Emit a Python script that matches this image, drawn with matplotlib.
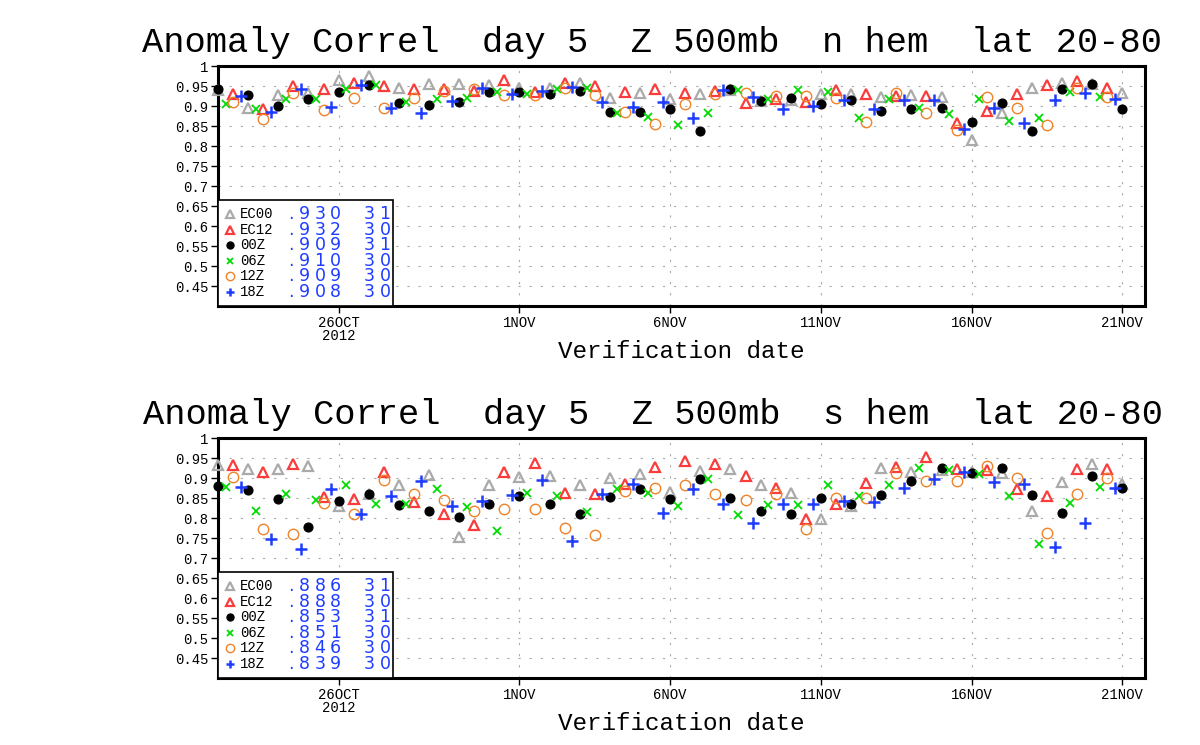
import numpy as np
import matplotlib
matplotlib.use('Agg')
import matplotlib.pyplot as plt
from matplotlib.patches import Rectangle

# ---- data: anomaly correlation, day 5, Z500 ----
start = np.datetime64('2012-10-22T00:00')

nh_ec00 = [0.940, 0.894, 0.927, 0.932, 0.966, 0.976, 0.944, 0.956, 0.956, 0.953, 0.946,
           0.946, 0.958, 0.921, 0.933, 0.918, 0.931, 0.940, 0.912, 0.915, 0.929, 0.931,
           0.922, 0.927, 0.923, 0.814, 0.883, 0.946, 0.957, 0.955, 0.933]
nh_ec12 = [0.931, 0.892, 0.950, 0.942, 0.958, 0.950, 0.943, 0.943, 0.938, 0.965,
           0.935, 0.958, 0.950, 0.935, 0.942, 0.933, 0.937, 0.908, 0.917, 0.910,
           0.939, 0.931, 0.925, 0.925, 0.857, 0.887, 0.929, 0.952, 0.962, 0.946]
nh_00z = [0.942, 0.927, 0.900, 0.918, 0.936, 0.952, 0.908, 0.902, 0.910, 0.935, 0.936,
          0.931, 0.937, 0.885, 0.886, 0.892, 0.837, 0.942, 0.912, 0.921, 0.904, 0.915,
          0.887, 0.893, 0.896, 0.861, 0.908, 0.837, 0.942, 0.954, 0.892]
nh_06z = [0.906, 0.893, 0.918, 0.918, 0.942, 0.952, 0.911, 0.918, 0.921, 0.935,
          0.931, 0.943, 0.946, 0.882, 0.872, 0.852, 0.882, 0.939, 0.917, 0.940,
          0.936, 0.869, 0.917, 0.896, 0.879, 0.917, 0.862, 0.869, 0.935, 0.923]
nh_12z = [0.911, 0.867, 0.933, 0.890, 0.921, 0.894, 0.921, 0.937, 0.942, 0.927,
          0.927, 0.944, 0.927, 0.886, 0.856, 0.906, 0.931, 0.932, 0.925, 0.925,
          0.921, 0.860, 0.932, 0.883, 0.840, 0.923, 0.896, 0.852, 0.946, 0.923]
nh_18z = [0.925, 0.885, 0.943, 0.898, 0.952, 0.894, 0.883, 0.912, 0.946, 0.931,
          0.937, 0.948, 0.910, 0.898, 0.910, 0.871, 0.939, 0.923, 0.892, 0.900,
          0.915, 0.892, 0.915, 0.915, 0.842, 0.896, 0.857, 0.914, 0.932, 0.917]

sh_ec00 = [0.933, 0.923, 0.922, 0.930, 0.830, 0.860, 0.882, 0.907, 0.752, 0.883, 0.902,
           0.904, 0.883, 0.901, 0.909, 0.865, 0.917, 0.923, 0.882, 0.862, 0.797, 0.830,
           0.925, 0.915, 0.920, 0.915, 0.913, 0.817, 0.890, 0.936, 0.885]
sh_ec12 = [0.932, 0.915, 0.934, 0.852, 0.848, 0.915, 0.840, 0.811, 0.782, 0.915,
           0.937, 0.863, 0.859, 0.886, 0.927, 0.942, 0.936, 0.905, 0.876, 0.798,
           0.836, 0.888, 0.927, 0.952, 0.922, 0.919, 0.872, 0.855, 0.922, 0.922]
sh_00z = [0.880, 0.869, 0.847, 0.777, 0.842, 0.861, 0.833, 0.817, 0.803, 0.836, 0.855,
          0.836, 0.811, 0.852, 0.873, 0.847, 0.897, 0.851, 0.817, 0.811, 0.851, 0.836,
          0.857, 0.892, 0.926, 0.913, 0.925, 0.857, 0.813, 0.904, 0.875]
sh_06z = [0.877, 0.817, 0.861, 0.844, 0.882, 0.836, 0.836, 0.873, 0.827, 0.768,
          0.863, 0.854, 0.815, 0.873, 0.863, 0.830, 0.897, 0.807, 0.832, 0.832,
          0.883, 0.854, 0.882, 0.926, 0.919, 0.911, 0.855, 0.736, 0.838, 0.877]
sh_12z = [0.902, 0.772, 0.759, 0.838, 0.809, 0.894, 0.861, 0.846, 0.817, 0.822,
          0.822, 0.775, 0.757, 0.867, 0.876, 0.883, 0.861, 0.844, 0.861, 0.773,
          0.850, 0.850, 0.913, 0.892, 0.892, 0.930, 0.900, 0.763, 0.861, 0.900]
sh_18z = [0.877, 0.748, 0.723, 0.872, 0.811, 0.855, 0.892, 0.829, 0.842, 0.857,
          0.894, 0.742, 0.861, 0.886, 0.812, 0.872, 0.834, 0.787, 0.834, 0.834,
          0.842, 0.840, 0.875, 0.898, 0.915, 0.890, 0.884, 0.727, 0.788, 0.875]

names = ['EC00', 'EC12', '00Z', '06Z', '12Z', '18Z']
cycle_hours = [0, 12, 0, 6, 12, 18]
nh_means = ['.930', '.932', '.909', '.910', '.909', '.908']
sh_means = ['.886', '.888', '.853', '.851', '.846', '.839']
nh_counts = ['31', '30', '31', '30', '30', '30']
sh_counts = ['31', '30', '31', '30', '30', '30']

tick_dates = ['2012-10-26', '2012-11-01', '2012-11-06', '2012-11-11', '2012-11-16', '2012-11-21']
tick_labels = ['26OCT\n2012', '1NOV', '6NOV', '11NOV', '16NOV', '21NOV']
y_ticks = [0.45, 0.5, 0.55, 0.6, 0.65, 0.7, 0.75, 0.8, 0.85, 0.9, 0.95, 1.0]
y_labels = ['0.45', '0.5', '0.55', '0.6', '0.65', '0.7', '0.75', '0.8', '0.85', '0.9', '0.95', '1']

# marker styles (GrADS-like colours)
styles = [
    dict(marker='^', color='#aaaaaa', mfc='none', ms=6.5, mew=1.6),
    dict(marker='^', color='#fa3c3c', mfc='none', ms=6.5, mew=1.6),
    dict(marker='o', color='black', ms=6.5, mew=0.8),
    dict(marker='x', color='#00dc00', ms=6, mew=1.3),
    dict(marker='o', color='#f08228', mfc='none', ms=7.5, mew=1.0),
    dict(marker='+', color='#1e3cff', ms=8, mew=1.8),
]

MONO = ['Liberation Mono', 'DejaVu Sans Mono']
AX_W = 927.0  # axes width in pixels, used to place legend pieces


def spaced(ax, x_px, y, s, pitch_px):
    # GrADS draws the stats with a wide fixed pitch
    for k, ch in enumerate(s):
        ax.text((x_px + k * pitch_px) / AX_W, y, ch, transform=ax.transAxes,
                family='DejaVu Sans', fontsize=12.5, color='#1e3cff',
                va='center', ha='left', zorder=5)


def draw_panel(ax, series, means, counts):
    for vals, hr, st in zip(series, cycle_hours, styles):
        x = start + np.arange(len(vals)) * np.timedelta64(1, 'D') + np.timedelta64(hr, 'h')
        ax.plot(x, vals, linestyle='none', clip_on=False, zorder=3, **st)

    ax.set_xlim(start, start + np.timedelta64(30, 'D') + np.timedelta64(18, 'h'))
    ax.set_ylim(0.4, 1.0)
    ax.set_xticks(np.array(tick_dates, dtype='datetime64[D]'))
    ax.set_xticklabels(tick_labels, family=MONO, fontsize=10, linespacing=0.95)
    ax.set_yticks(y_ticks)
    ax.set_yticklabels(y_labels, family=MONO, fontsize=10)
    ax.tick_params(direction='out', length=5, width=1, pad=2)
    ax.grid(True, color='#aaaaaa', linestyle=(0, (2, 8)), linewidth=0.8)
    ax.set_axisbelow(True)
    for sp in ax.spines.values():
        sp.set_linewidth(2.2)

    # legend box, lower left
    ax.add_patch(Rectangle((0, 0), 175 / AX_W, 0.442, transform=ax.transAxes,
                           facecolor='white', edgecolor='black', linewidth=1.2,
                           zorder=4, clip_on=False))
    for i in range(len(names)):
        yy = 0.383 - i * 0.065
        st = dict(styles[i])
        st['ms'] = st['ms'] * 0.8
        ax.plot([12 / AX_W], [yy], transform=ax.transAxes, linestyle='none',
                zorder=5, clip_on=False, **st)
        ax.text(22 / AX_W, yy, names[i], transform=ax.transAxes, family=MONO,
                fontsize=10, va='center', ha='left', zorder=5)
        spaced(ax, 70, yy, means[i][0], 0)
        spaced(ax, 81, yy, means[i][1:], 15.5)
        spaced(ax, 146, yy, counts[i], 15.5)


fig = plt.figure(figsize=(12, 7.45), dpi=100)
ax1 = fig.add_axes([218 / 1200, (745 - 306) / 745, AX_W / 1200, 240 / 745])
ax2 = fig.add_axes([218 / 1200, (745 - 678) / 745, AX_W / 1200, 240 / 745])

draw_panel(ax1, [nh_ec00, nh_ec12, nh_00z, nh_06z, nh_12z, nh_18z], nh_means, nh_counts)
draw_panel(ax2, [sh_ec00, sh_ec12, sh_00z, sh_06z, sh_12z, sh_18z], sh_means, sh_counts)

fig.text(652 / 1200, (745 - 52) / 745, 'Anomaly Correl  day 5  Z 500mb  n hem  lat 20-80',
         family=MONO, fontsize=25.5, ha='center', va='baseline')
fig.text(653 / 1200, (745 - 424) / 745, 'Anomaly Correl  day 5  Z 500mb  s hem  lat 20-80',
         family=MONO, fontsize=25.5, ha='center', va='baseline')
fig.text(681 / 1200, (745 - 358) / 745, 'Verification date', family=MONO,
         fontsize=17.5, ha='center', va='baseline')
fig.text(681 / 1200, (745 - 730) / 745, 'Verification date', family=MONO,
         fontsize=17.5, ha='center', va='baseline')

fig.savefig('out.png', dpi=100, facecolor='white')
